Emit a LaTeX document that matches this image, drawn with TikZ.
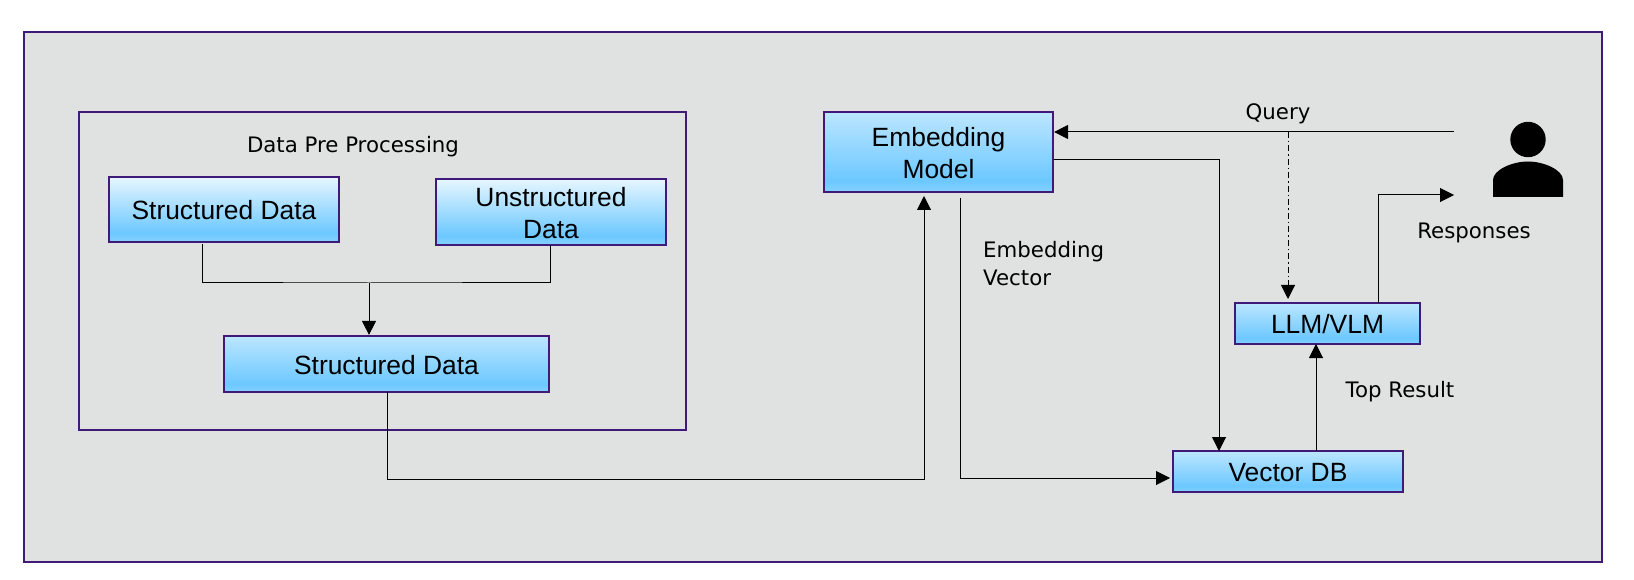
\documentclass[tikz,border=0pt]{standalone}
\usepackage{fontspec}
\setmainfont{Liberation Sans}
\newfontfamily\lblfont{DejaVu Sans}
\usetikzlibrary{arrows.meta}
\definecolor{frame}{HTML}{3F1A78}
\definecolor{panel}{HTML}{E0E2E2}
\definecolor{boxbot}{HTML}{86D0FF}
\definecolor{boxmid}{HTML}{6CC8FF}
\definecolor{boxtop}{HTML}{BCE6FF}
\definecolor{boxpale}{HTML}{E6F6FF}
\pgfdeclareverticalshading{boxgrad}{100bp}{color(0bp)=(boxbot); color(25bp)=(boxbot); color(32bp)=(boxmid); color(75bp)=(boxtop); color(100bp)=(boxtop)}
\pgfdeclareverticalshading{boxgradpale}{100bp}{color(0bp)=(boxbot); color(25bp)=(boxbot); color(32bp)=(boxmid); color(75bp)=(boxpale); color(100bp)=(boxpale)}
\tikzset{
  gbox/.style={draw=frame,line width=2.2pt,shading=boxgrad,inner sep=0pt,font=\fontsize{26.4}{32}\selectfont},
  pale/.style={shading=boxgradpale},
  lbl/.style={font=\lblfont\fontsize{21.3}{28}\selectfont,inner sep=0pt,align=left},
  conn/.style={line width=1pt,draw=black},
  arr/.style={conn,-{Triangle[length=14pt,width=14pt]}},
}
\newcommand{\boxtext}[1]{\raisebox{-3.8pt}[\height][\depth]{\begin{tabular}{@{}c@{}}#1\end{tabular}}}
\newcommand{\boxat}[7][]{\node[gbox,#1,minimum width=#5pt-#3pt,minimum height=#6pt-#4pt] (#2) at ({(#3+#5)/2},{(#4+#6)/2}) {\boxtext{#7}};}
\begin{document}
\begin{tikzpicture}[x=1pt,y=-1pt]
\useasboundingbox (0,0) rectangle (1634,580);
\node[draw=frame,fill=panel,line width=2pt,minimum width=1578pt,minimum height=530pt,inner sep=0pt] (outer) at (813,297) {};
\node[draw=frame,line width=2pt,minimum width=607pt,minimum height=318pt,inner sep=0pt] (inner) at (382.5,271) {};
\node[lbl] (title) at (353,147) {Data Pre Processing};
\boxat[pale]{sa}{109}{177}{339}{242}{Structured Data}
\boxat[pale]{ua}{436}{179}{666}{245}{Unstructured\\Data}
\boxat{sb}{224}{336}{549}{392}{Structured Data}
\boxat{em}{824}{112}{1053}{192}{Embedding\\Model}
\boxat{llm}{1235}{303}{1420}{344}{LLM/VLM}
\boxat{vdb}{1173}{451}{1403}{492}{Vector DB}
\node[lbl] (q) at (1278,114) {Query};
\node[lbl,anchor=west] (ev) at (983,264) {Embedding\\Vector};
\node[lbl] (tr) at (1400,392) {Top Result};
\node[lbl] (rs) at (1474,233) {Responses};
% person
\fill (1528,139.5) circle (17.7);
\fill (1493,197) -- (1493,180) .. controls (1493,170) and (1512,161.5) .. (1528,161.5) .. controls (1544,161.5) and (1563,170) .. (1563,180) -- (1563,197) -- cycle;
\coordinate (user) at (1454,132);
\coordinate (userin) at (1454,195);
\coordinate (j) at (369,283);
\coordinate (saout) at (202,244);
\coordinate (uaout) at (550,245);
\coordinate (sbout) at (387,392);
\coordinate (emin) at (924,196);
\coordinate (emout) at (960,198);
\coordinate (vdbin) at (1219,451);
\coordinate (vdbw) at (1170,478);
\coordinate (qj) at (1288,132);
\coordinate (llmin) at (1288,299);
\coordinate (llmout) at (1378,303);
\coordinate (toll) at (1316,344);
\coordinate (vdbout) at (1316,451);
\draw[conn] (saout) |- (j) -| (uaout);
\draw[arr] (j) -- (j |- sb.north);
\draw[arr] (sbout) |- (emin |- 0,479) -- (emin);
\draw[arr] (user) -- (em.east |- user);
\draw[arr] (em.east |- 0,160) -| (vdbin);
\draw[arr] (emout) |- (vdbw);
\draw[arr] (vdbout) -- (toll);
\draw[arr] (llmout) |- (userin);
\draw[arr,dash pattern=on 6pt off 3pt on 1.5pt off 3pt] (qj) -- (llmin);
\end{tikzpicture}
\end{document}
